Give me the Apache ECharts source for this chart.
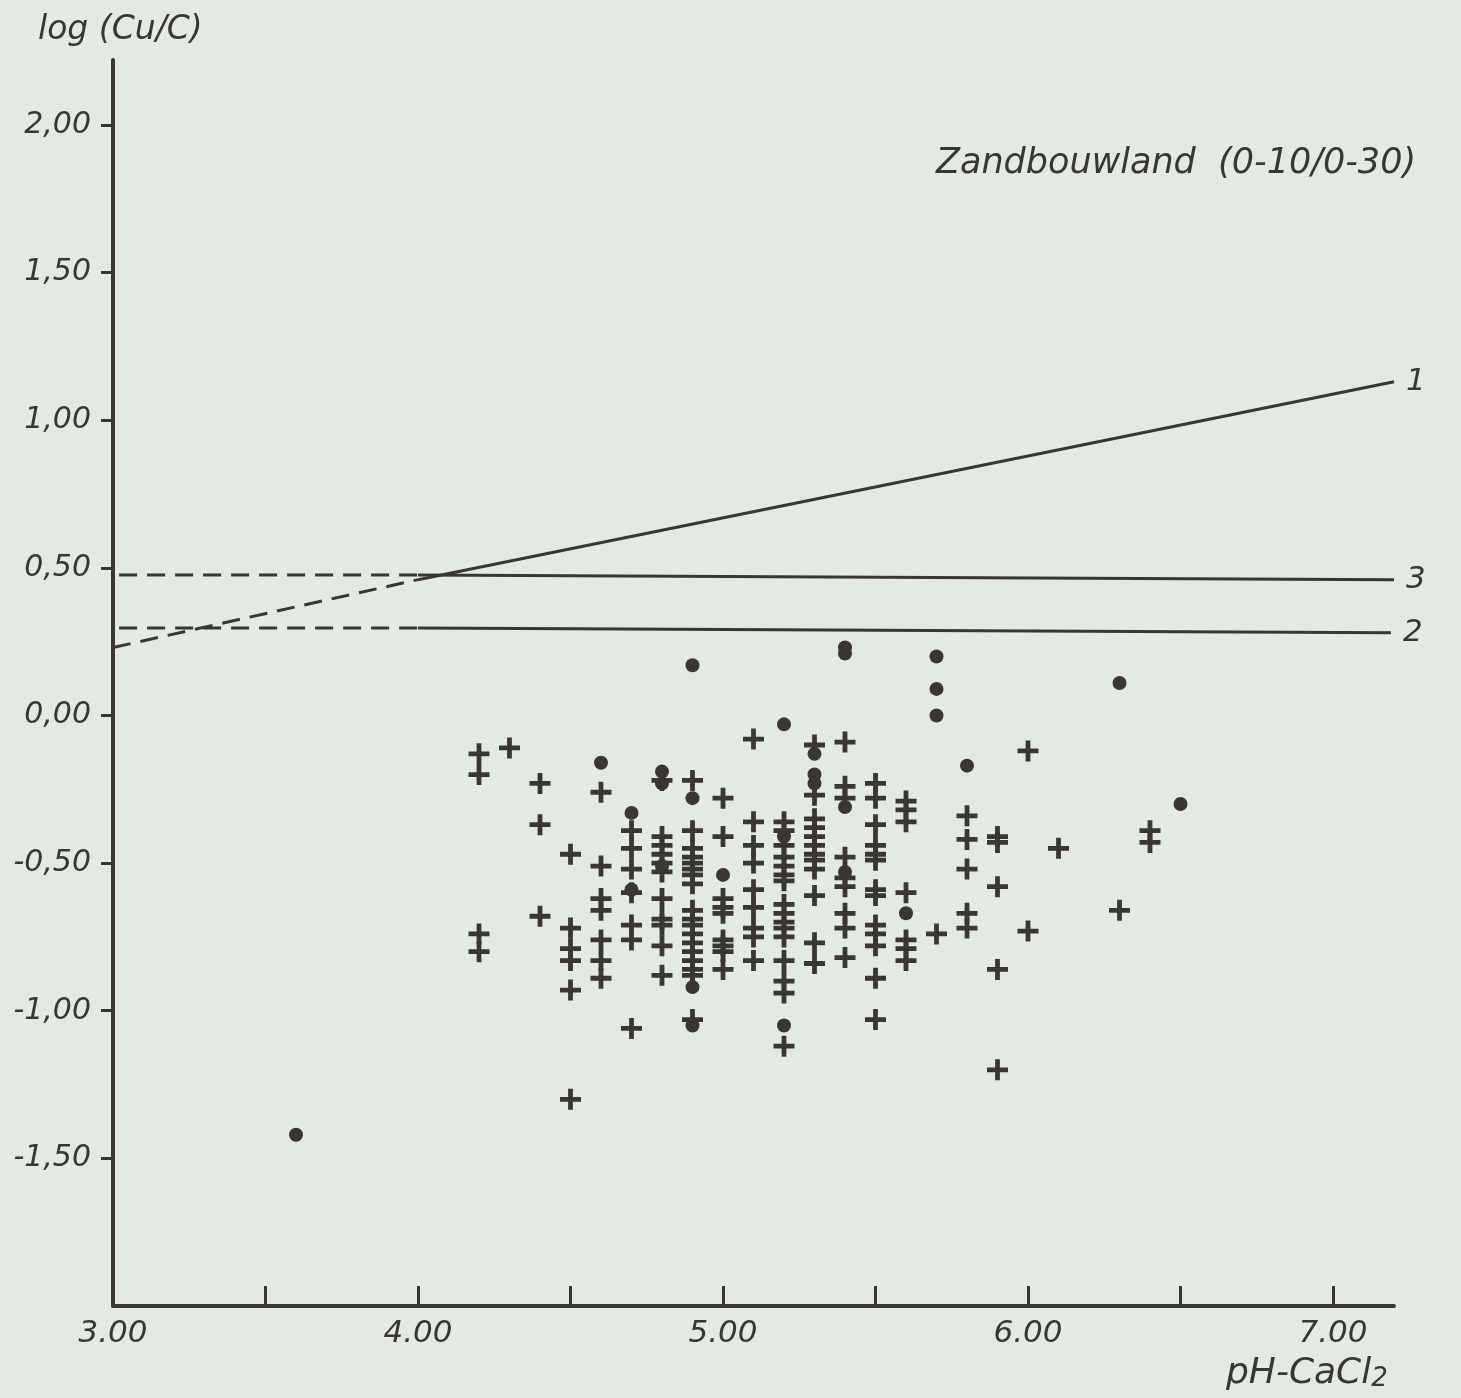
<!DOCTYPE html>
<html>
<head>
<meta charset="utf-8">
<title>log (Cu/C) tegen pH-CaCl2</title>
<script src="https://cdn.jsdelivr.net/npm/echarts@6.0.0/dist/echarts.min.js"></script>
<style>
  html, body { margin: 0; padding: 0; background: #e2eae1; }
  #chart { width: 1461px; height: 1398px; }
</style>
</head>
<body>
<div id="chart"></div>
<script>
// tick positions
const xTicks = [3.5, 4, 4.5, 5, 5.5, 6, 6.5, 7]
const xLabels = [3, 4, 5, 6, 7]
const yTicks = [-1.5, -1, -0.5, 0, 0.5, 1, 1.5, 2]

// "+" punten [pH, log(Cu/C)]
const crossPoints = [
  [4.2, -0.13], [4.2, -0.20], [4.2, -0.74], [4.2, -0.80],
  [4.3, -0.11],
  [4.4, -0.23], [4.4, -0.37], [4.4, -0.68],
  [4.5, -0.47], [4.5, -0.72], [4.5, -0.79], [4.5, -0.83], [4.5, -0.93], [4.5, -1.30],
  [4.6, -0.26], [4.6, -0.51], [4.6, -0.62], [4.6, -0.66], [4.6, -0.76], [4.6, -0.83], [4.6, -0.89],
  [4.7, -0.39], [4.7, -0.45], [4.7, -0.52], [4.7, -0.60], [4.7, -0.71], [4.7, -0.76], [4.7, -1.06],
  [4.8, -0.22], [4.8, -0.41], [4.8, -0.44], [4.8, -0.47], [4.8, -0.50], [4.8, -0.53], [4.8, -0.62],
  [4.8, -0.69], [4.8, -0.71], [4.8, -0.78], [4.8, -0.88],
  [4.9, -0.22], [4.9, -0.39], [4.9, -0.45], [4.9, -0.48], [4.9, -0.50], [4.9, -0.52], [4.9, -0.54],
  [4.9, -0.57], [4.9, -0.66], [4.9, -0.69], [4.9, -0.71], [4.9, -0.74], [4.9, -0.77], [4.9, -0.80],
  [4.9, -0.83], [4.9, -0.86], [4.9, -0.88], [4.9, -1.03],
  [5.0, -0.28], [5.0, -0.41], [5.0, -0.62], [5.0, -0.65], [5.0, -0.67], [5.0, -0.76], [5.0, -0.78],
  [5.0, -0.80], [5.0, -0.86],
  [5.1, -0.08], [5.1, -0.36], [5.1, -0.44], [5.1, -0.50], [5.1, -0.59], [5.1, -0.65], [5.1, -0.72],
  [5.1, -0.75], [5.1, -0.83],
  [5.2, -0.36], [5.2, -0.39], [5.2, -0.44], [5.2, -0.48], [5.2, -0.51], [5.2, -0.54], [5.2, -0.56],
  [5.2, -0.64], [5.2, -0.67], [5.2, -0.70], [5.2, -0.72], [5.2, -0.75], [5.2, -0.83], [5.2, -0.90],
  [5.2, -0.94], [5.2, -1.12],
  [5.3, -0.10], [5.3, -0.27], [5.3, -0.35], [5.3, -0.38], [5.3, -0.41], [5.3, -0.44], [5.3, -0.47],
  [5.3, -0.49], [5.3, -0.52], [5.3, -0.61], [5.3, -0.77], [5.3, -0.84],
  [5.4, -0.09], [5.4, -0.24], [5.4, -0.28], [5.4, -0.48], [5.4, -0.55], [5.4, -0.58], [5.4, -0.67],
  [5.4, -0.72], [5.4, -0.82],
  [5.5, -0.23], [5.5, -0.28], [5.5, -0.37], [5.5, -0.44], [5.5, -0.47], [5.5, -0.49], [5.5, -0.59],
  [5.5, -0.61], [5.5, -0.71], [5.5, -0.74], [5.5, -0.78], [5.5, -0.89], [5.5, -1.03],
  [5.6, -0.29], [5.6, -0.32], [5.6, -0.36], [5.6, -0.60], [5.6, -0.76], [5.6, -0.79], [5.6, -0.83],
  [5.7, -0.74],
  [5.8, -0.34], [5.8, -0.42], [5.8, -0.52], [5.8, -0.67], [5.8, -0.72],
  [5.9, -0.41], [5.9, -0.43], [5.9, -0.58], [5.9, -0.86], [5.9, -1.20],
  [6.0, -0.12], [6.0, -0.73],
  [6.1, -0.45],
  [6.3, -0.66],
  [6.4, -0.39], [6.4, -0.43]
]

// "•" punten
const dotPoints = [
  [3.6, -1.42],
  [4.6, -0.16],
  [4.7, -0.33], [4.7, -0.59],
  [4.8, -0.19], [4.8, -0.23], [4.8, -0.51],
  [4.9, 0.17], [4.9, -0.28], [4.9, -0.92], [4.9, -1.05],
  [5.0, -0.54],
  [5.2, -0.03], [5.2, -0.41], [5.2, -1.05],
  [5.3, -0.13], [5.3, -0.20], [5.3, -0.23],
  [5.4, 0.23], [5.4, 0.21], [5.4, -0.31], [5.4, -0.53],
  [5.6, -0.67],
  [5.7, 0.20], [5.7, 0.09], [5.7, 0.00],
  [5.8, -0.17],
  [6.3, 0.11],
  [6.5, -0.30]
]

// lijnen 1, 2, 3 (gestippeld deel links van pH 4)
const line1Dashed = [[3.0, 0.23], [4.0, 0.46]]
const line1Solid = [[4.0, 0.46], [7.2, 1.13]]
const line2Dashed = [[3.02, 0.296], [4.0, 0.296]]
const line2Solid = [[4.0, 0.296], [7.19, 0.28]]
const line3Dashed = [[3.02, 0.476], [4.0, 0.476]]
const line3Solid = [[4.0, 0.476], [7.2, 0.46]]

const ink = '#3a3636'
const font = 'DejaVu Sans'
const crossPath = 'path://M8.5,0h5v8.5h8.5v5h-8.5v8.5h-5v-8.5h-8.5v-5h8.5z'

const chart = echarts.init(document.getElementById('chart'))

const lineStyle = (dashed) => ({
  color: ink,
  width: 3,
  type: dashed ? [18, 10] : 'solid'
})

const lineSeries = (data, dashed, name) => ({
  type: 'line',
  data: data,
  symbol: 'none',
  clip: false,
  silent: true,
  lineStyle: lineStyle(dashed),
  endLabel: name ? {
    show: true,
    formatter: name,
    distance: 12,
    color: ink,
    fontFamily: font,
    fontStyle: 'italic',
    fontSize: 31
  } : { show: false }
})

chart.setOption({
  backgroundColor: '#e2eae1',
  animation: false,
  title: [
    {
      text: 'log (Cu/C)',
      left: 38, top: 14, padding: 0,
      textStyle: { color: ink, fontFamily: font, fontStyle: 'italic', fontWeight: 'normal', fontSize: 33 }
    },
    {
      text: 'Zandbouwland  (0-10/0-30)',
      left: 936, top: 146, padding: 0,
      textStyle: { color: ink, fontFamily: font, fontStyle: 'italic', fontWeight: 'normal', fontSize: 35 }
    },
    {
      text: '{a|pH-CaCl}{b|2}',
      left: 1226, top: 1352, padding: 0,
      textStyle: {
        fontWeight: 'normal',
        rich: {
          a: { color: ink, fontFamily: font, fontStyle: 'italic', fontWeight: 'normal', fontSize: 36, verticalAlign: 'bottom' },
          b: { color: ink, fontFamily: font, fontStyle: 'italic', fontWeight: 'normal', fontSize: 26, padding: [14, 0, 0, 0], verticalAlign: 'bottom' }
        }
      }
    }
  ],
  grid: { left: 113, right: 67, top: 60, bottom: 92, containLabel: false },
  xAxis: {
    type: 'value',
    min: 3,
    max: 7.2,
    splitLine: { show: false },
    axisLine: { onZero: false, lineStyle: { color: ink, width: 4 } },
    axisTick: {
      inside: true,
      length: 20,
      customValues: xTicks,
      lineStyle: { color: ink, width: 3 }
    },
    axisLabel: {
      customValues: xLabels,
      margin: 12,
      color: ink,
      fontFamily: font,
      fontStyle: 'italic',
      fontSize: 31,
      formatter: (v) => v.toFixed(2)
    }
  },
  yAxis: {
    type: 'value',
    min: -2,
    max: 2.22,
    splitLine: { show: false },
    axisLine: { onZero: false, lineStyle: { color: ink, width: 4 } },
    axisTick: {
      inside: false,
      length: 12,
      customValues: yTicks,
      lineStyle: { color: ink, width: 3 }
    },
    axisLabel: {
      customValues: yTicks,
      margin: 22,
      color: ink,
      fontFamily: font,
      fontStyle: 'italic',
      fontSize: 30,
      formatter: (v) => v.toFixed(2).replace('.', ',')
    }
  },
  series: [
    lineSeries(line1Dashed, true),
    lineSeries(line1Solid, false, '1'),
    lineSeries(line2Dashed, true),
    lineSeries(line2Solid, false, '2'),
    lineSeries(line3Dashed, true),
    lineSeries(line3Solid, false, '3'),
    {
      type: 'scatter',
      data: crossPoints,
      symbol: crossPath,
      symbolSize: 21,
      itemStyle: { color: ink, opacity: 1 }
    },
    {
      type: 'scatter',
      data: dotPoints,
      symbol: 'circle',
      symbolSize: 14,
      itemStyle: { color: ink, opacity: 1 }
    }
  ]
})
</script>
</body>
</html>
